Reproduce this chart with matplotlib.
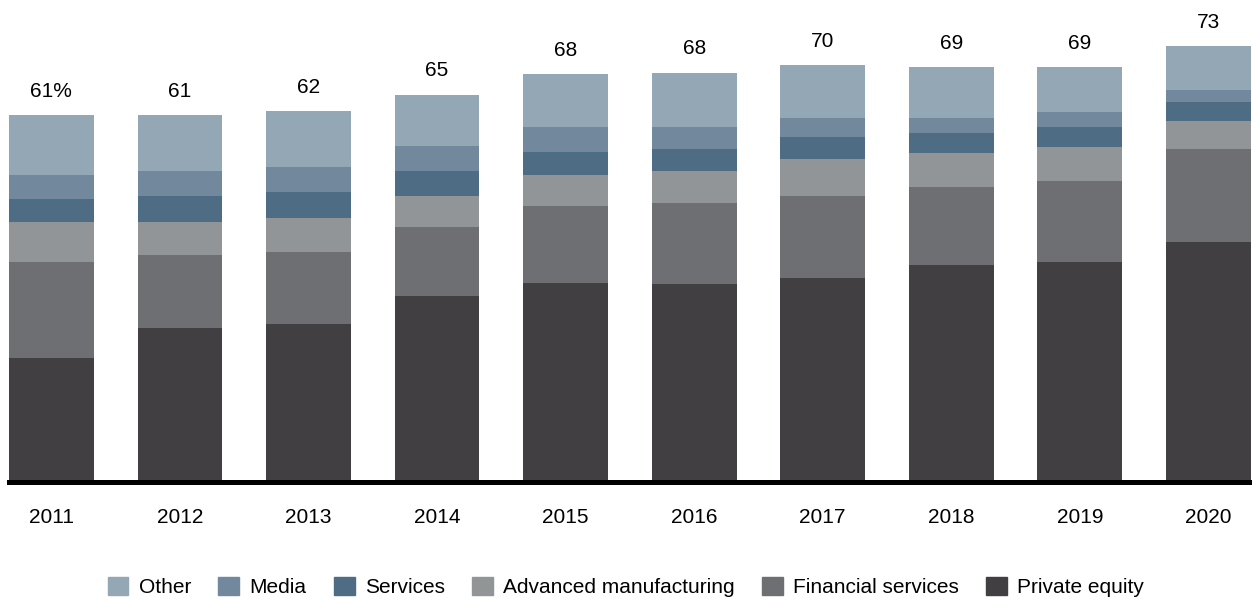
import numpy as np
import matplotlib.pyplot as plt
from matplotlib.patches import Patch

plt.rcParams['font.family'] = ['Liberation Sans', 'DejaVu Sans']

years = ['2011', '2012', '2013', '2014', '2015', '2016', '2017', '2018', '2019', '2020']

# share of deals by sector, percentage points (stacked bottom to top)
private_equity = [20.5, 25.4, 26.2, 30.9, 33.1, 32.9, 33.9, 36.1, 36.5, 40.0]
financial_services = [16.1, 12.4, 12.1, 11.6, 12.8, 13.5, 13.7, 13.0, 13.6, 15.6]
advanced_manufacturing = [6.6, 5.4, 5.6, 5.1, 5.2, 5.5, 6.2, 5.7, 5.7, 4.7]
services = [4.0, 4.5, 4.5, 4.3, 4.0, 3.6, 3.8, 3.4, 3.5, 3.1]
media = [3.9, 4.2, 4.2, 4.2, 4.2, 3.8, 3.2, 2.6, 2.4, 2.0]
other = [10.2, 9.4, 9.4, 8.6, 8.9, 9.1, 8.9, 8.6, 7.7, 7.4]

series = [
    ('Private equity', private_equity, '#423F42'),
    ('Financial services', financial_services, '#6E6F73'),
    ('Advanced manufacturing', advanced_manufacturing, '#929598'),
    ('Services', services, '#4F6C85'),
    ('Media', media, '#72899D'),
    ('Other', other, '#94A7B4'),
]

px_per_unit = 5.95
fig = plt.figure(figsize=(12.52, 5.99), dpi=100)
ax = fig.add_axes([9 / 1252, (599 - 481.5) / 599, 1 - 9 / 1252, 481.5 / 599])

x = np.arange(len(years))
bottom = np.zeros(len(years))
for name, vals, col in series:
    ax.bar(x, vals, width=0.66, bottom=bottom, color=col, linewidth=0, label=name)
    bottom += np.array(vals)

totals = bottom
for i, t in enumerate(totals):
    txt = f'{t:.0f}%' if i == 0 else f'{t:.0f}'
    ax.annotate(txt, (x[i], t), xytext=(0, 13), textcoords='offset points',
                ha='center', va='baseline', fontsize=15)

# thick baseline overlaps the foot of the bars
ax.set_xlim(-0.33, 9.34)
ax.set_ylim(-2.0 / px_per_unit, 479.5 / px_per_unit)
ax.set_xticks(x)
ax.set_xticklabels(years, fontsize=15)
ax.tick_params(axis='x', length=0, pad=19)
ax.set_yticks([])
for s in ['top', 'left', 'right']:
    ax.spines[s].set_visible(False)
ax.spines['bottom'].set_linewidth(3.6)
ax.spines['bottom'].set_color('black')
ax.spines['bottom'].set_zorder(5)

handles = [Patch(color=col, label=name) for name, vals, col in series[::-1]]
fig.legend(handles=handles, loc='center', bbox_to_anchor=(0.5, 1 - 587 / 599),
           ncol=6, frameon=False, fontsize=15, handlelength=1.0, handleheight=1.0,
           handletextpad=0.5, columnspacing=1.3, borderpad=0)

fig.savefig('out.png', dpi=100)
